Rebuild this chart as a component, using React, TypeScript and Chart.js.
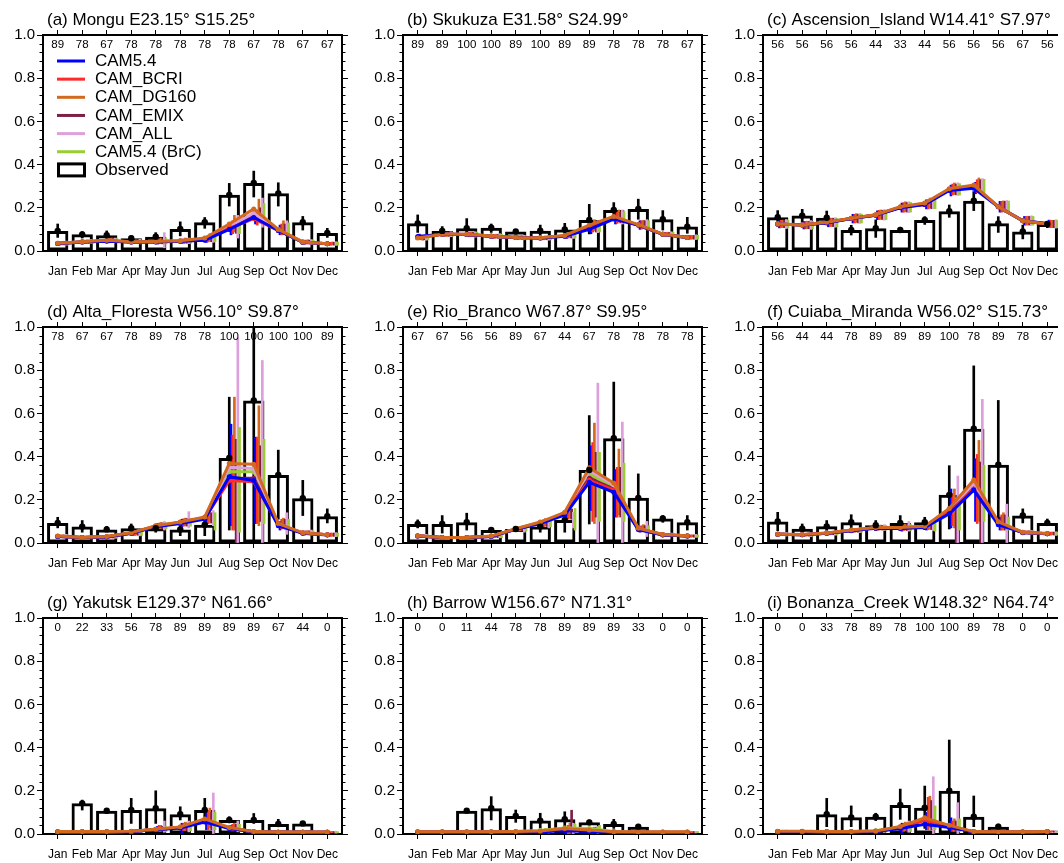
import React, { useEffect, useRef } from 'react';
import { Chart, registerables } from 'chart.js';

Chart.register(...registerables);

const FONT = '"Liberation Sans", Arial, Helvetica, sans-serif';

// ---------- labels ----------
const MONTHS = ['Jan', 'Feb', 'Mar', 'Apr', 'May', 'Jun', 'Jul', 'Aug', 'Sep', 'Oct', 'Nov', 'Dec'];
const Y_TICK_STEP = 0.2;
const Y_MINOR_STEP = 0.04;
const MODEL_NAMES = ['CAM5.4', 'CAM_BCRI', 'CAM_DG160', 'CAM_EMIX', 'CAM_ALL', 'CAM5.4 (BrC)'];
const MODEL_COLORS = ['#0000ff', '#ff2a2a', '#d2691e', '#7f1f46', '#dda0dd', '#9acd32'];
const LINE_ORDER = [62, 63, 60, 65, 64, 66]; // lower = drawn on top

const PANEL_TITLES = [
  '(a) Mongu E23.15° S15.25°',
  '(b) Skukuza E31.58° S24.99°',
  '(c) Ascension_Island W14.41° S7.97°',
  '(d) Alta_Floresta W56.10° S9.87°',
  '(e) Rio_Branco W67.87° S9.95°',
  '(f) Cuiaba_Miranda W56.02° S15.73°',
  '(g) Yakutsk E129.37° N61.66°',
  '(h) Barrow W156.67° N71.31°',
  '(i) Bonanza_Creek W148.32° N64.74°',
];

// ---------- (a) Mongu ----------
const countsA = [89, 78, 67, 78, 78, 78, 78, 78, 67, 78, 67, 67];
const obsA = [0.093, 0.077, 0.073, 0.059, 0.066, 0.102, 0.133, 0.26, 0.315, 0.267, 0.133, 0.083];
const obsLoA = [0.063, 0.06, 0.06, 0.05, 0.05, 0.07, 0.105, 0.208, 0.25, 0.208, 0.097, 0.063];
const obsHiA = [0.125, 0.09, 0.093, 0.07, 0.085, 0.135, 0.155, 0.313, 0.37, 0.316, 0.16, 0.105];
const modelA = [
  [0.035, 0.042, 0.045, 0.042, 0.042, 0.045, 0.05, 0.1, 0.155, 0.095, 0.04, 0.033],
  [0.035, 0.042, 0.047, 0.042, 0.043, 0.045, 0.052, 0.105, 0.15, 0.095, 0.04, 0.033],
  [0.036, 0.043, 0.05, 0.043, 0.044, 0.047, 0.06, 0.125, 0.195, 0.1, 0.042, 0.034],
  [0.035, 0.042, 0.047, 0.042, 0.043, 0.046, 0.055, 0.11, 0.165, 0.097, 0.041, 0.033],
  [0.036, 0.043, 0.048, 0.043, 0.044, 0.046, 0.057, 0.115, 0.175, 0.098, 0.041, 0.034],
  [0.035, 0.042, 0.047, 0.042, 0.043, 0.046, 0.055, 0.11, 0.17, 0.097, 0.041, 0.033],
];
const modelLoA = [
  [0.028, 0.036, 0.038, 0.035, 0.032, 0.035, 0.04, 0.075, 0.125, 0.075, 0.032, 0.027],
  [0.028, 0.036, 0.04, 0.035, 0.033, 0.035, 0.042, 0.08, 0.12, 0.075, 0.032, 0.027],
  [0.029, 0.037, 0.042, 0.036, 0.034, 0.037, 0.045, 0.09, 0.15, 0.078, 0.034, 0.028],
  [0.028, 0.036, 0.04, 0.035, 0.033, 0.036, 0.043, 0.082, 0.13, 0.076, 0.033, 0.027],
  [0.027, 0.035, 0.038, 0.033, 0.015, 0.034, 0.04, 0.06, 0.11, 0.07, 0.03, 0.026],
  [0.028, 0.036, 0.04, 0.035, 0.033, 0.036, 0.043, 0.08, 0.13, 0.076, 0.033, 0.027],
];
const modelHiA = [
  [0.043, 0.05, 0.055, 0.05, 0.055, 0.055, 0.065, 0.13, 0.185, 0.12, 0.05, 0.04],
  [0.043, 0.05, 0.057, 0.05, 0.056, 0.056, 0.068, 0.14, 0.19, 0.125, 0.05, 0.04],
  [0.045, 0.052, 0.06, 0.052, 0.06, 0.06, 0.08, 0.165, 0.24, 0.14, 0.052, 0.042],
  [0.044, 0.05, 0.057, 0.05, 0.056, 0.057, 0.07, 0.145, 0.2, 0.125, 0.05, 0.04],
  [0.046, 0.053, 0.06, 0.054, 0.085, 0.06, 0.08, 0.165, 0.245, 0.14, 0.053, 0.043],
  [0.044, 0.05, 0.057, 0.05, 0.057, 0.057, 0.07, 0.15, 0.22, 0.13, 0.05, 0.041],
];

// ---------- (b) Skukuza ----------
const countsB = [89, 89, 100, 100, 89, 100, 89, 89, 78, 78, 78, 67];
const obsB = [0.128, 0.093, 0.105, 0.108, 0.09, 0.094, 0.1, 0.144, 0.19, 0.195, 0.147, 0.113];
const obsLoB = [0.086, 0.074, 0.077, 0.086, 0.08, 0.066, 0.074, 0.079, 0.156, 0.147, 0.097, 0.082];
const obsHiB = [0.167, 0.113, 0.15, 0.125, 0.1, 0.12, 0.128, 0.216, 0.224, 0.24, 0.187, 0.156];
const modelB = [
  [0.067, 0.077, 0.076, 0.068, 0.062, 0.06, 0.068, 0.1, 0.148, 0.12, 0.077, 0.063],
  [0.062, 0.077, 0.076, 0.068, 0.062, 0.06, 0.07, 0.11, 0.15, 0.12, 0.077, 0.063],
  [0.06, 0.077, 0.077, 0.069, 0.063, 0.061, 0.072, 0.12, 0.16, 0.122, 0.078, 0.063],
  [0.062, 0.077, 0.076, 0.068, 0.062, 0.06, 0.07, 0.108, 0.152, 0.12, 0.077, 0.063],
  [0.063, 0.078, 0.077, 0.069, 0.063, 0.061, 0.071, 0.112, 0.155, 0.121, 0.078, 0.064],
  [0.062, 0.077, 0.076, 0.068, 0.062, 0.06, 0.07, 0.11, 0.152, 0.12, 0.077, 0.063],
];
const modelLoB = [
  [0.055, 0.068, 0.066, 0.059, 0.054, 0.052, 0.058, 0.08, 0.125, 0.1, 0.068, 0.055],
  [0.052, 0.068, 0.066, 0.059, 0.054, 0.052, 0.06, 0.088, 0.128, 0.102, 0.068, 0.055],
  [0.05, 0.068, 0.067, 0.06, 0.055, 0.053, 0.062, 0.095, 0.135, 0.104, 0.069, 0.055],
  [0.052, 0.068, 0.066, 0.059, 0.054, 0.052, 0.06, 0.088, 0.13, 0.102, 0.068, 0.055],
  [0.05, 0.066, 0.064, 0.057, 0.052, 0.05, 0.058, 0.085, 0.125, 0.098, 0.066, 0.053],
  [0.052, 0.068, 0.066, 0.059, 0.054, 0.052, 0.06, 0.088, 0.13, 0.102, 0.068, 0.055],
];
const modelHiB = [
  [0.078, 0.086, 0.086, 0.077, 0.07, 0.068, 0.078, 0.12, 0.175, 0.14, 0.086, 0.072],
  [0.074, 0.086, 0.086, 0.077, 0.07, 0.068, 0.08, 0.13, 0.18, 0.14, 0.086, 0.072],
  [0.072, 0.087, 0.088, 0.078, 0.071, 0.069, 0.083, 0.145, 0.19, 0.142, 0.087, 0.072],
  [0.074, 0.086, 0.086, 0.077, 0.07, 0.068, 0.08, 0.13, 0.18, 0.14, 0.086, 0.072],
  [0.077, 0.089, 0.089, 0.08, 0.073, 0.071, 0.083, 0.14, 0.19, 0.145, 0.089, 0.075],
  [0.074, 0.086, 0.086, 0.077, 0.07, 0.068, 0.08, 0.132, 0.182, 0.14, 0.086, 0.073],
];

// ---------- (c) Ascension_Island ----------
const countsC = [56, 56, 56, 56, 44, 33, 44, 56, 56, 56, 67, 56];
const obsC = [0.156, 0.164, 0.154, 0.097, 0.105, 0.097, 0.144, 0.184, 0.233, 0.128, 0.09, 0.125];
const obsLoC = [0.113, 0.131, 0.123, 0.074, 0.063, 0.086, 0.123, 0.156, 0.187, 0.086, 0.056, 0.108];
const obsHiC = [0.187, 0.193, 0.185, 0.119, 0.144, 0.11, 0.159, 0.213, 0.275, 0.159, 0.12, 0.136];
const modelC = [
  [0.125, 0.12, 0.13, 0.15, 0.165, 0.2, 0.215, 0.28, 0.29, 0.205, 0.14, 0.127],
  [0.125, 0.12, 0.132, 0.15, 0.167, 0.202, 0.215, 0.285, 0.3, 0.205, 0.14, 0.125],
  [0.125, 0.12, 0.133, 0.152, 0.168, 0.205, 0.222, 0.288, 0.305, 0.205, 0.14, 0.125],
  [0.125, 0.12, 0.132, 0.15, 0.167, 0.202, 0.218, 0.285, 0.3, 0.205, 0.14, 0.125],
  [0.126, 0.121, 0.133, 0.151, 0.168, 0.203, 0.22, 0.287, 0.302, 0.206, 0.141, 0.126],
  [0.125, 0.12, 0.132, 0.151, 0.167, 0.203, 0.219, 0.286, 0.301, 0.205, 0.14, 0.125],
];
const modelLoC = [
  [0.107, 0.102, 0.112, 0.13, 0.145, 0.18, 0.195, 0.255, 0.265, 0.18, 0.12, 0.11],
  [0.108, 0.103, 0.113, 0.13, 0.146, 0.18, 0.195, 0.26, 0.27, 0.18, 0.12, 0.108],
  [0.108, 0.103, 0.114, 0.132, 0.147, 0.183, 0.2, 0.262, 0.275, 0.182, 0.121, 0.108],
  [0.108, 0.103, 0.113, 0.13, 0.146, 0.18, 0.196, 0.26, 0.27, 0.18, 0.12, 0.108],
  [0.104, 0.1, 0.11, 0.128, 0.143, 0.178, 0.195, 0.258, 0.268, 0.178, 0.118, 0.106],
  [0.107, 0.102, 0.112, 0.13, 0.145, 0.18, 0.196, 0.259, 0.27, 0.18, 0.12, 0.108],
];
const modelHiC = [
  [0.142, 0.137, 0.148, 0.17, 0.186, 0.222, 0.237, 0.305, 0.318, 0.23, 0.16, 0.143],
  [0.142, 0.137, 0.15, 0.17, 0.188, 0.224, 0.237, 0.31, 0.33, 0.23, 0.16, 0.142],
  [0.143, 0.138, 0.152, 0.173, 0.19, 0.228, 0.245, 0.315, 0.338, 0.232, 0.161, 0.142],
  [0.142, 0.137, 0.15, 0.17, 0.188, 0.224, 0.24, 0.31, 0.33, 0.23, 0.16, 0.142],
  [0.146, 0.141, 0.154, 0.174, 0.192, 0.228, 0.245, 0.316, 0.335, 0.234, 0.163, 0.145],
  [0.142, 0.137, 0.15, 0.171, 0.188, 0.225, 0.241, 0.312, 0.332, 0.231, 0.16, 0.142],
];

// ---------- (d) Alta_Floresta ----------
const countsD = [78, 67, 67, 78, 89, 78, 78, 100, 100, 100, 100, 89];
const obsD = [0.093, 0.076, 0.063, 0.068, 0.068, 0.063, 0.085, 0.394, 0.66, 0.315, 0.207, 0.124];
const obsLoD = [0.07, 0.05, 0.054, 0.05, 0.05, 0.034, 0.034, 0.06, 0.0, 0.11, 0.127, 0.093];
const obsHiD = [0.119, 0.104, 0.077, 0.088, 0.077, 0.08, 0.119, 0.675, 1.0, 0.43, 0.29, 0.158];
const modelD = [
  [0.03, 0.025, 0.028, 0.045, 0.075, 0.09, 0.11, 0.307, 0.289, 0.08, 0.045, 0.037],
  [0.03, 0.025, 0.028, 0.045, 0.078, 0.093, 0.115, 0.289, 0.283, 0.085, 0.046, 0.038],
  [0.032, 0.026, 0.03, 0.047, 0.08, 0.097, 0.12, 0.368, 0.365, 0.09, 0.047, 0.038],
  [0.031, 0.026, 0.029, 0.046, 0.078, 0.095, 0.117, 0.3, 0.3, 0.087, 0.046, 0.038],
  [0.031, 0.026, 0.029, 0.046, 0.079, 0.096, 0.118, 0.35, 0.345, 0.088, 0.047, 0.038],
  [0.031, 0.026, 0.029, 0.046, 0.078, 0.095, 0.117, 0.33, 0.33, 0.087, 0.046, 0.038],
];
const modelLoD = [
  [0.025, 0.02, 0.023, 0.035, 0.065, 0.075, 0.09, 0.08, 0.09, 0.06, 0.037, 0.03],
  [0.025, 0.02, 0.023, 0.035, 0.066, 0.078, 0.09, 0.06, 0.09, 0.065, 0.038, 0.031],
  [0.026, 0.021, 0.024, 0.037, 0.068, 0.08, 0.095, 0.06, 0.08, 0.07, 0.039, 0.031],
  [0.025, 0.02, 0.023, 0.036, 0.066, 0.078, 0.092, 0.0, 0.1, 0.065, 0.038, 0.031],
  [0.024, 0.019, 0.022, 0.033, 0.06, 0.07, 0.08, 0.0, 0.0, 0.04, 0.035, 0.029],
  [0.025, 0.02, 0.023, 0.035, 0.066, 0.078, 0.06, 0.05, 0.09, 0.065, 0.038, 0.031],
];
const modelHiD = [
  [0.036, 0.03, 0.034, 0.055, 0.09, 0.11, 0.13, 0.55, 0.49, 0.1, 0.055, 0.045],
  [0.036, 0.03, 0.034, 0.057, 0.092, 0.112, 0.135, 0.5, 0.49, 0.11, 0.056, 0.046],
  [0.038, 0.032, 0.036, 0.058, 0.095, 0.115, 0.14, 0.675, 0.635, 0.115, 0.057, 0.046],
  [0.037, 0.031, 0.035, 0.056, 0.093, 0.113, 0.14, 0.48, 0.45, 0.11, 0.056, 0.046],
  [0.04, 0.033, 0.037, 0.06, 0.1, 0.145, 0.15, 0.95, 0.845, 0.14, 0.06, 0.048],
  [0.037, 0.031, 0.035, 0.056, 0.093, 0.113, 0.14, 0.535, 0.48, 0.11, 0.056, 0.046],
];

// ---------- (e) Rio_Branco ----------
const countsE = [67, 67, 56, 56, 89, 67, 44, 67, 78, 78, 78, 78];
const obsE = [0.088, 0.088, 0.096, 0.06, 0.065, 0.076, 0.107, 0.338, 0.485, 0.209, 0.114, 0.096];
const obsLoE = [0.07, 0.046, 0.06, 0.05, 0.054, 0.05, 0.05, 0.088, 0.0, 0.054, 0.096, 0.06];
const obsHiE = [0.107, 0.127, 0.138, 0.07, 0.072, 0.088, 0.131, 0.59, 0.745, 0.32, 0.127, 0.127];
const modelE = [
  [0.032, 0.025, 0.025, 0.03, 0.063, 0.09, 0.13, 0.281, 0.235, 0.062, 0.037, 0.032],
  [0.032, 0.025, 0.025, 0.03, 0.064, 0.092, 0.135, 0.29, 0.245, 0.065, 0.038, 0.032],
  [0.033, 0.026, 0.026, 0.032, 0.066, 0.097, 0.142, 0.348, 0.278, 0.068, 0.039, 0.033],
  [0.032, 0.025, 0.025, 0.031, 0.064, 0.093, 0.137, 0.3, 0.25, 0.066, 0.038, 0.032],
  [0.033, 0.026, 0.026, 0.031, 0.065, 0.095, 0.14, 0.335, 0.27, 0.067, 0.039, 0.033],
  [0.032, 0.025, 0.025, 0.031, 0.065, 0.094, 0.138, 0.32, 0.26, 0.066, 0.038, 0.032],
];
const modelLoE = [
  [0.027, 0.021, 0.021, 0.025, 0.055, 0.075, 0.11, 0.15, 0.12, 0.05, 0.031, 0.027],
  [0.027, 0.021, 0.021, 0.025, 0.055, 0.077, 0.11, 0.1, 0.12, 0.052, 0.032, 0.027],
  [0.028, 0.022, 0.022, 0.026, 0.057, 0.08, 0.115, 0.09, 0.13, 0.054, 0.033, 0.028],
  [0.027, 0.021, 0.021, 0.025, 0.055, 0.077, 0.11, 0.12, 0.12, 0.052, 0.032, 0.027],
  [0.026, 0.02, 0.02, 0.024, 0.05, 0.07, 0.07, 0.0, 0.0, 0.03, 0.03, 0.026],
  [0.027, 0.021, 0.021, 0.025, 0.055, 0.075, 0.06, 0.1, 0.1, 0.05, 0.032, 0.027],
];
const modelHiE = [
  [0.037, 0.029, 0.029, 0.035, 0.072, 0.105, 0.15, 0.45, 0.34, 0.075, 0.043, 0.037],
  [0.037, 0.029, 0.029, 0.036, 0.073, 0.108, 0.155, 0.465, 0.35, 0.08, 0.044, 0.037],
  [0.038, 0.03, 0.03, 0.038, 0.076, 0.113, 0.165, 0.555, 0.435, 0.085, 0.045, 0.038],
  [0.037, 0.029, 0.029, 0.036, 0.073, 0.108, 0.158, 0.42, 0.35, 0.08, 0.044, 0.037],
  [0.04, 0.031, 0.031, 0.038, 0.078, 0.115, 0.142, 0.74, 0.56, 0.1, 0.046, 0.04],
  [0.037, 0.029, 0.029, 0.036, 0.074, 0.108, 0.16, 0.42, 0.37, 0.08, 0.044, 0.037],
];

// ---------- (f) Cuiaba_Miranda ----------
const countsF = [56, 44, 44, 78, 89, 89, 89, 100, 78, 89, 78, 67];
const obsF = [0.1, 0.066, 0.077, 0.096, 0.082, 0.093, 0.096, 0.223, 0.529, 0.362, 0.127, 0.093];
const obsLoF = [0.057, 0.046, 0.057, 0.06, 0.057, 0.057, 0.062, 0.065, 0.24, 0.08, 0.093, 0.08];
const obsHiF = [0.142, 0.088, 0.104, 0.131, 0.104, 0.127, 0.119, 0.358, 0.82, 0.66, 0.158, 0.111];
const modelF = [
  [0.04, 0.038, 0.045, 0.057, 0.068, 0.067, 0.072, 0.135, 0.245, 0.085, 0.048, 0.043],
  [0.04, 0.038, 0.045, 0.058, 0.07, 0.069, 0.074, 0.145, 0.25, 0.09, 0.049, 0.043],
  [0.041, 0.039, 0.046, 0.06, 0.072, 0.072, 0.078, 0.16, 0.292, 0.098, 0.05, 0.044],
  [0.04, 0.038, 0.045, 0.058, 0.07, 0.07, 0.075, 0.148, 0.26, 0.092, 0.049, 0.043],
  [0.041, 0.039, 0.046, 0.059, 0.071, 0.071, 0.077, 0.155, 0.275, 0.095, 0.05, 0.044],
  [0.04, 0.038, 0.045, 0.058, 0.07, 0.07, 0.076, 0.15, 0.265, 0.093, 0.049, 0.043],
];
const modelLoF = [
  [0.034, 0.032, 0.038, 0.05, 0.06, 0.055, 0.06, 0.07, 0.1, 0.06, 0.042, 0.037],
  [0.034, 0.032, 0.038, 0.05, 0.06, 0.058, 0.062, 0.08, 0.09, 0.06, 0.043, 0.037],
  [0.035, 0.033, 0.039, 0.052, 0.062, 0.06, 0.065, 0.07, 0.1, 0.06, 0.044, 0.038],
  [0.034, 0.032, 0.038, 0.05, 0.06, 0.058, 0.062, 0.0, 0.0, 0.06, 0.043, 0.037],
  [0.032, 0.03, 0.036, 0.048, 0.058, 0.055, 0.058, 0.0, 0.0, 0.0, 0.04, 0.035],
  [0.034, 0.032, 0.038, 0.05, 0.06, 0.058, 0.055, 0.06, 0.1, 0.06, 0.043, 0.037],
];
const modelHiF = [
  [0.046, 0.044, 0.052, 0.065, 0.078, 0.082, 0.088, 0.25, 0.39, 0.12, 0.055, 0.05],
  [0.046, 0.044, 0.052, 0.066, 0.08, 0.084, 0.09, 0.23, 0.41, 0.13, 0.056, 0.05],
  [0.047, 0.045, 0.054, 0.068, 0.083, 0.088, 0.095, 0.25, 0.475, 0.14, 0.057, 0.051],
  [0.046, 0.044, 0.052, 0.066, 0.08, 0.085, 0.09, 0.2, 0.375, 0.13, 0.056, 0.05],
  [0.049, 0.047, 0.055, 0.07, 0.085, 0.1, 0.1, 0.31, 0.665, 0.18, 0.058, 0.052],
  [0.046, 0.044, 0.052, 0.066, 0.08, 0.085, 0.09, 0.2, 0.36, 0.12, 0.056, 0.05],
];

// ---------- (g) Yakutsk ----------
const countsG = [0, 22, 33, 56, 78, 89, 89, 89, 89, 67, 44, 0];
const obsG = [null, 0.142, 0.108, 0.111, 0.119, 0.092, 0.111, 0.065, 0.065, 0.046, 0.049, null];
const obsLoG = [null, 0.111, 0.095, 0.049, 0.049, 0.065, 0.049, 0.052, 0.049, 0.034, 0.042, null];
const obsHiG = [null, 0.157, 0.119, 0.165, 0.2, 0.126, 0.165, 0.08, 0.095, 0.068, 0.057, null];
const modelG = [
  [0.01, 0.01, 0.01, 0.012, 0.02, 0.028, 0.055, 0.025, 0.01, 0.008, 0.008, 0.008],
  [0.01, 0.01, 0.01, 0.012, 0.021, 0.03, 0.062, 0.027, 0.01, 0.008, 0.008, 0.008],
  [0.011, 0.011, 0.011, 0.013, 0.022, 0.033, 0.07, 0.03, 0.011, 0.009, 0.009, 0.009],
  [0.01, 0.01, 0.01, 0.012, 0.021, 0.03, 0.063, 0.027, 0.01, 0.008, 0.008, 0.008],
  [0.01, 0.01, 0.01, 0.012, 0.022, 0.031, 0.066, 0.028, 0.01, 0.008, 0.008, 0.008],
  [0.01, 0.01, 0.01, 0.012, 0.021, 0.03, 0.064, 0.027, 0.01, 0.008, 0.008, 0.008],
];
const modelLoG = [
  [0.007, 0.007, 0.007, 0.008, 0.01, 0.0, 0.02, 0.012, 0.006, 0.005, 0.005, 0.005],
  [0.007, 0.007, 0.007, 0.008, 0.012, 0.015, 0.02, 0.014, 0.006, 0.005, 0.005, 0.005],
  [0.008, 0.008, 0.008, 0.009, 0.012, 0.018, 0.03, 0.015, 0.007, 0.006, 0.006, 0.006],
  [0.007, 0.007, 0.007, 0.008, 0.012, 0.015, 0.02, 0.014, 0.006, 0.005, 0.005, 0.005],
  [0.006, 0.006, 0.006, 0.007, 0.008, 0.01, 0.0, 0.01, 0.005, 0.004, 0.004, 0.004],
  [0.007, 0.007, 0.007, 0.008, 0.012, 0.015, 0.02, 0.014, 0.006, 0.005, 0.005, 0.005],
];
const modelHiG = [
  [0.013, 0.013, 0.013, 0.016, 0.035, 0.05, 0.1, 0.04, 0.014, 0.011, 0.011, 0.011],
  [0.013, 0.013, 0.013, 0.016, 0.04, 0.05, 0.11, 0.045, 0.014, 0.011, 0.011, 0.011],
  [0.014, 0.014, 0.014, 0.017, 0.04, 0.055, 0.12, 0.05, 0.015, 0.012, 0.012, 0.012],
  [0.013, 0.013, 0.013, 0.016, 0.035, 0.05, 0.1, 0.045, 0.014, 0.011, 0.011, 0.011],
  [0.015, 0.015, 0.015, 0.018, 0.06, 0.06, 0.19, 0.06, 0.016, 0.013, 0.013, 0.013],
  [0.013, 0.013, 0.013, 0.016, 0.035, 0.05, 0.1, 0.045, 0.014, 0.011, 0.011, 0.011],
];

// ---------- (h) Barrow ----------
const countsH = [0, 0, 11, 44, 78, 78, 89, 89, 89, 33, 0, 0];
const obsH = [null, null, 0.108, 0.119, 0.083, 0.062, 0.068, 0.054, 0.046, 0.034, null, null];
const obsLoH = [null, null, 0.103, 0.065, 0.054, 0.026, 0.034, 0.042, 0.026, 0.026, null, null];
const obsHiH = [null, null, 0.116, 0.173, 0.111, 0.096, 0.103, 0.065, 0.068, 0.045, null, null];
const modelH = [
  [0.008, 0.008, 0.008, 0.008, 0.008, 0.01, 0.015, 0.012, 0.008, 0.007, 0.007, 0.007],
  [0.009, 0.009, 0.009, 0.009, 0.01, 0.012, 0.02, 0.015, 0.009, 0.008, 0.008, 0.008],
  [0.01, 0.01, 0.01, 0.01, 0.011, 0.014, 0.025, 0.018, 0.01, 0.009, 0.009, 0.009],
  [0.009, 0.009, 0.009, 0.009, 0.01, 0.012, 0.022, 0.016, 0.009, 0.008, 0.008, 0.008],
  [0.01, 0.01, 0.01, 0.01, 0.01, 0.013, 0.022, 0.016, 0.009, 0.008, 0.008, 0.008],
  [0.011, 0.011, 0.011, 0.011, 0.012, 0.016, 0.028, 0.025, 0.012, 0.009, 0.009, 0.009],
];
const modelLoH = [
  [0.005, 0.005, 0.005, 0.005, 0.005, 0.004, 0.0, 0.004, 0.005, 0.004, 0.004, 0.004],
  [0.006, 0.006, 0.006, 0.006, 0.006, 0.005, 0.0, 0.005, 0.006, 0.005, 0.005, 0.005],
  [0.007, 0.007, 0.007, 0.007, 0.007, 0.006, 0.0, 0.006, 0.007, 0.006, 0.006, 0.006],
  [0.006, 0.006, 0.006, 0.006, 0.006, 0.005, 0.0, 0.005, 0.006, 0.005, 0.005, 0.005],
  [0.006, 0.006, 0.006, 0.006, 0.006, 0.005, 0.0, 0.004, 0.006, 0.005, 0.005, 0.005],
  [0.008, 0.008, 0.008, 0.008, 0.008, 0.008, 0.01, 0.01, 0.008, 0.006, 0.006, 0.006],
];
const modelHiH = [
  [0.012, 0.012, 0.012, 0.012, 0.012, 0.018, 0.03, 0.022, 0.012, 0.01, 0.01, 0.01],
  [0.013, 0.013, 0.013, 0.013, 0.015, 0.022, 0.04, 0.028, 0.013, 0.011, 0.011, 0.011],
  [0.014, 0.014, 0.014, 0.014, 0.016, 0.025, 0.05, 0.032, 0.014, 0.012, 0.012, 0.012],
  [0.013, 0.013, 0.013, 0.013, 0.015, 0.022, 0.11, 0.03, 0.013, 0.011, 0.011, 0.011],
  [0.014, 0.014, 0.014, 0.014, 0.015, 0.024, 0.05, 0.035, 0.013, 0.011, 0.011, 0.011],
  [0.015, 0.015, 0.015, 0.015, 0.017, 0.026, 0.045, 0.04, 0.016, 0.012, 0.012, 0.012],
];

// ---------- (i) Bonanza_Creek ----------
const countsI = [0, 0, 33, 78, 89, 78, 100, 100, 89, 78, 0, 0];
const obsI = [null, null, 0.092, 0.077, 0.08, 0.134, 0.122, 0.2, 0.08, 0.034, null, null];
const obsLoI = [null, null, 0.034, 0.034, 0.062, 0.068, 0.026, 0.0, 0.034, 0.022, null, null];
const obsHiI = [null, null, 0.165, 0.13, 0.096, 0.208, 0.222, 0.435, 0.176, 0.046, null, null];
const modelI = [
  [0.012, 0.012, 0.01, 0.01, 0.012, 0.025, 0.045, 0.03, 0.01, 0.008, 0.008, 0.01],
  [0.012, 0.012, 0.01, 0.01, 0.013, 0.03, 0.065, 0.035, 0.01, 0.009, 0.009, 0.011],
  [0.013, 0.013, 0.011, 0.011, 0.014, 0.035, 0.075, 0.04, 0.011, 0.01, 0.01, 0.012],
  [0.012, 0.012, 0.01, 0.01, 0.013, 0.03, 0.065, 0.035, 0.01, 0.009, 0.009, 0.011],
  [0.012, 0.012, 0.01, 0.01, 0.013, 0.031, 0.068, 0.036, 0.01, 0.009, 0.009, 0.011],
  [0.012, 0.012, 0.011, 0.012, 0.015, 0.031, 0.066, 0.035, 0.011, 0.009, 0.009, 0.011],
];
const modelLoI = [
  [0.008, 0.008, 0.007, 0.007, 0.008, 0.0, 0.02, 0.01, 0.007, 0.005, 0.005, 0.007],
  [0.008, 0.008, 0.007, 0.007, 0.009, 0.012, 0.02, 0.012, 0.007, 0.006, 0.006, 0.008],
  [0.009, 0.009, 0.008, 0.008, 0.01, 0.015, 0.03, 0.012, 0.008, 0.007, 0.007, 0.009],
  [0.008, 0.008, 0.007, 0.007, 0.009, 0.012, 0.02, 0.012, 0.007, 0.006, 0.006, 0.008],
  [0.007, 0.007, 0.006, 0.006, 0.007, 0.008, 0.0, 0.0, 0.006, 0.005, 0.005, 0.007],
  [0.008, 0.008, 0.008, 0.009, 0.01, 0.012, 0.02, 0.012, 0.008, 0.006, 0.006, 0.008],
];
const modelHiI = [
  [0.016, 0.016, 0.013, 0.013, 0.017, 0.05, 0.1, 0.075, 0.013, 0.011, 0.011, 0.013],
  [0.016, 0.016, 0.013, 0.013, 0.018, 0.05, 0.17, 0.06, 0.013, 0.012, 0.012, 0.014],
  [0.017, 0.017, 0.014, 0.014, 0.019, 0.055, 0.175, 0.07, 0.014, 0.013, 0.013, 0.015],
  [0.016, 0.016, 0.013, 0.013, 0.018, 0.05, 0.155, 0.06, 0.013, 0.012, 0.012, 0.014],
  [0.018, 0.018, 0.015, 0.015, 0.02, 0.06, 0.265, 0.145, 0.015, 0.013, 0.013, 0.016],
  [0.016, 0.016, 0.014, 0.016, 0.02, 0.05, 0.13, 0.07, 0.014, 0.012, 0.012, 0.014],
];

type PanelData = {
  title: string;
  counts: number[];
  obs: (number | null)[];
  obsLo: (number | null)[];
  obsHi: (number | null)[];
  model: number[][];
  lo: number[][];
  hi: number[][];
};

const PANELS: PanelData[] = [
  { title: PANEL_TITLES[0], counts: countsA, obs: obsA, obsLo: obsLoA, obsHi: obsHiA, model: modelA, lo: modelLoA, hi: modelHiA },
  { title: PANEL_TITLES[1], counts: countsB, obs: obsB, obsLo: obsLoB, obsHi: obsHiB, model: modelB, lo: modelLoB, hi: modelHiB },
  { title: PANEL_TITLES[2], counts: countsC, obs: obsC, obsLo: obsLoC, obsHi: obsHiC, model: modelC, lo: modelLoC, hi: modelHiC },
  { title: PANEL_TITLES[3], counts: countsD, obs: obsD, obsLo: obsLoD, obsHi: obsHiD, model: modelD, lo: modelLoD, hi: modelHiD },
  { title: PANEL_TITLES[4], counts: countsE, obs: obsE, obsLo: obsLoE, obsHi: obsHiE, model: modelE, lo: modelLoE, hi: modelHiE },
  { title: PANEL_TITLES[5], counts: countsF, obs: obsF, obsLo: obsLoF, obsHi: obsHiF, model: modelF, lo: modelLoF, hi: modelHiF },
  { title: PANEL_TITLES[6], counts: countsG, obs: obsG, obsLo: obsLoG, obsHi: obsHiG, model: modelG, lo: modelLoG, hi: modelHiG },
  { title: PANEL_TITLES[7], counts: countsH, obs: obsH, obsLo: obsLoH, obsHi: obsHiH, model: modelH, lo: modelLoH, hi: modelHiH },
  { title: PANEL_TITLES[8], counts: countsI, obs: obsI, obsLo: obsLoI, obsHi: obsHiI, model: modelI, lo: modelLoI, hi: modelHiI },
];

// ---------- layout / style constants ----------
const CANVAS_W = 360;
const CANVAS_H = 291;
const AREA_LEFT = 43;
const AREA_TOP = 35;
const AREA_W = 299;
const AREA_H = 216;
const COL_LEFT = [43, 403, 763];
const ROW_TOP = [35, 327, 618];
const X_MIN = 0.4;
const X_MAX = 12.6;
const ERR_OFFSET = 0.07;
const COUNT_LEVEL = 0.953;

const monthTicks = (s: any) => {
  s.ticks = MONTHS.map((_, i) => ({ value: i + 1 }));
};

function Panel({ p, left, top, legend }: { p: PanelData; left: number; top: number; legend: boolean }) {
  const ref = useRef<HTMLCanvasElement>(null);

  useEffect(() => {
    const canvas = ref.current;
    if (!canvas) return;

    const datasets: any[] = [];
    datasets.push({
      type: 'bar',
      label: 'Observed',
      xAxisID: 'x',
      yAxisID: 'y',
      data: p.obs.map((v, i) => ({ x: i + 1, y: v })),
      backgroundColor: 'rgba(0,0,0,0)',
      borderColor: '#000',
      borderWidth: 3,
      borderSkipped: false,
      grouped: false,
      categoryPercentage: 1,
      barPercentage: 0.87,
      order: 100,
    });
    datasets.push({
      type: 'bar',
      xAxisID: 'xe',
      yAxisID: 'y',
      data: p.obs.map((v, i) => ({ x: i + 1, y: v == null ? null : [p.obsLo[i], p.obsHi[i]] })),
      backgroundColor: '#000',
      borderWidth: 0,
      barThickness: 2,
      grouped: false,
      order: 90,
    });
    MODEL_NAMES.forEach((_, m) => {
      datasets.push({
        type: 'bar',
        xAxisID: 'xe',
        yAxisID: 'y',
        data: p.model[m].map((_, i) => ({ x: i + 1 + ERR_OFFSET * (m + 1), y: [p.lo[m][i], p.hi[m][i]] })),
        backgroundColor: MODEL_COLORS[m],
        borderWidth: 0,
        barThickness: 2,
        grouped: false,
        order: 80 - m,
      });
    });
    MODEL_NAMES.forEach((name, m) => {
      datasets.push({
        type: 'line',
        label: name,
        xAxisID: 'x',
        yAxisID: 'y',
        data: p.model[m].map((v, i) => ({ x: i + 1, y: v })),
        borderColor: MODEL_COLORS[m],
        backgroundColor: MODEL_COLORS[m],
        borderWidth: 3,
        pointRadius: 2.5,
        pointBorderWidth: 0,
        pointBackgroundColor: MODEL_COLORS[m],
        fill: false,
        tension: 0,
        order: LINE_ORDER[m],
      });
    });
    datasets.push({
      type: 'line',
      xAxisID: 'x',
      yAxisID: 'y',
      data: p.obs.map((v, i) => ({ x: i + 1, y: v })),
      showLine: false,
      pointRadius: 3.2,
      pointBorderWidth: 0,
      pointBackgroundColor: '#000',
      order: 10,
    });

    const extras = {
      id: 'panelExtras',
      afterDatasetsDraw(chart: any) {
        const ctx = chart.ctx;
        const xs = chart.scales.x;
        const ys = chart.scales.y;
        const { left: L, right: R, top: T } = chart.chartArea;
        ctx.save();
        // minor y ticks
        ctx.strokeStyle = '#000';
        ctx.lineWidth = 1;
        for (let k = 1; k * Y_MINOR_STEP < 1 - 1e-9; k++) {
          const v = k * Y_MINOR_STEP;
          if (Math.abs(v / Y_TICK_STEP - Math.round(v / Y_TICK_STEP)) < 1e-6) continue;
          const py = Math.round(ys.getPixelForValue(v)) + 0.5;
          ctx.beginPath();
          ctx.moveTo(L - 3.5, py);
          ctx.lineTo(L - 1, py);
          ctx.moveTo(R + 1, py);
          ctx.lineTo(R + 3.5, py);
          ctx.stroke();
        }
        // counts
        ctx.fillStyle = '#000';
        ctx.font = `11.5px ${FONT}`;
        ctx.textAlign = 'center';
        ctx.textBaseline = 'middle';
        p.counts.forEach((c, i) => {
          ctx.fillText(String(c), xs.getPixelForValue(i + 1), ys.getPixelForValue(COUNT_LEVEL));
        });
        // title
        ctx.font = `17px ${FONT}`;
        ctx.textAlign = 'left';
        ctx.textBaseline = 'alphabetic';
        ctx.fillText(p.title, L + 4, T - 10);
        // legend
        if (legend) {
          const rows = [...MODEL_NAMES, 'Observed'];
          ctx.font = `17px ${FONT}`;
          ctx.textBaseline = 'middle';
          rows.forEach((name, k) => {
            const ry = T + 26 + k * 18.15;
            if (k < MODEL_NAMES.length) {
              ctx.strokeStyle = MODEL_COLORS[k];
              ctx.lineWidth = 3;
              ctx.beginPath();
              ctx.moveTo(L + 14, ry);
              ctx.lineTo(L + 42, ry);
              ctx.stroke();
            } else {
              ctx.strokeStyle = '#000';
              ctx.lineWidth = 3;
              ctx.strokeRect(L + 15.5, ry - 6, 26, 12);
            }
            ctx.fillStyle = '#000';
            ctx.fillText(name, L + 52, ry + 0.5);
          });
        }
        ctx.restore();
      },
    };

    const xBase = {
      type: 'linear',
      min: X_MIN,
      max: X_MAX,
      offset: false,
      afterBuildTicks: monthTicks,
    };

    const chart = new Chart(canvas, {
      type: 'bar',
      data: { datasets },
      options: {
        responsive: false,
        animation: false,
        devicePixelRatio: 1,
        events: [],
        layout: { padding: 0, autoPadding: false },
        plugins: { legend: { display: false }, tooltip: { enabled: false }, title: { display: false } },
        scales: {
          x: {
            ...xBase,
            position: 'bottom',
            grid: { display: true, drawOnChartArea: false, offset: false, tickLength: 5, color: '#000', lineWidth: 1 },
            border: { display: true, color: '#000', width: 2 },
            ticks: {
              autoSkip: false,
              maxRotation: 0,
              minRotation: 0,
              padding: 8,
              color: '#000',
              font: { family: FONT, size: 12 },
              callback: (v: any) => MONTHS[Math.round(Number(v)) - 1],
            },
            afterFit: (s: any) => {
              s.height = CANVAS_H - AREA_TOP - AREA_H;
            },
          },
          xt: {
            ...xBase,
            axis: 'x',
            position: 'top',
            grid: { display: true, drawOnChartArea: false, offset: false, tickLength: 5, color: '#000', lineWidth: 1 },
            border: { display: true, color: '#000', width: 2 },
            ticks: { display: false, autoSkip: false },
            afterFit: (s: any) => {
              s.height = AREA_TOP;
            },
          },
          xe: {
            ...xBase,
            axis: 'x',
            display: false,
            grid: { offset: false },
          },
          y: {
            type: 'linear',
            position: 'left',
            min: 0,
            max: 1,
            grid: { display: true, drawOnChartArea: false, tickLength: 6, color: '#000', lineWidth: 1 },
            border: { display: true, color: '#000', width: 2 },
            ticks: {
              stepSize: Y_TICK_STEP,
              padding: 2,
              color: '#000',
              font: { family: FONT, size: 15 },
              callback: (v: any) => Number(v).toFixed(1),
            },
            afterFit: (s: any) => {
              s.width = AREA_LEFT;
            },
          },
          yr: {
            type: 'linear',
            axis: 'y',
            position: 'right',
            min: 0,
            max: 1,
            grid: { display: true, drawOnChartArea: false, tickLength: 6, color: '#000', lineWidth: 1 },
            border: { display: true, color: '#000', width: 2 },
            ticks: { display: false, stepSize: Y_TICK_STEP },
            afterFit: (s: any) => {
              s.width = CANVAS_W - AREA_LEFT - AREA_W;
            },
          },
        },
      } as any,
      plugins: [extras],
    } as any);

    return () => {
      chart.destroy();
    };
  }, [p, legend]);

  return (
    <canvas
      ref={ref}
      width={CANVAS_W}
      height={CANVAS_H}
      style={{ position: 'absolute', left, top, width: CANVAS_W, height: CANVAS_H }}
    />
  );
}

export default function App() {
  return (
    <div
      style={{
        position: 'absolute',
        left: 0,
        top: 0,
        width: 1058,
        height: 863,
        overflow: 'hidden',
        background: '#fff',
      }}
    >
      {PANELS.map((p, k) => (
        <Panel
          key={k}
          p={p}
          left={COL_LEFT[k % 3] - AREA_LEFT}
          top={ROW_TOP[Math.floor(k / 3)] - AREA_TOP}
          legend={k === 0}
        />
      ))}
    </div>
  );
}
